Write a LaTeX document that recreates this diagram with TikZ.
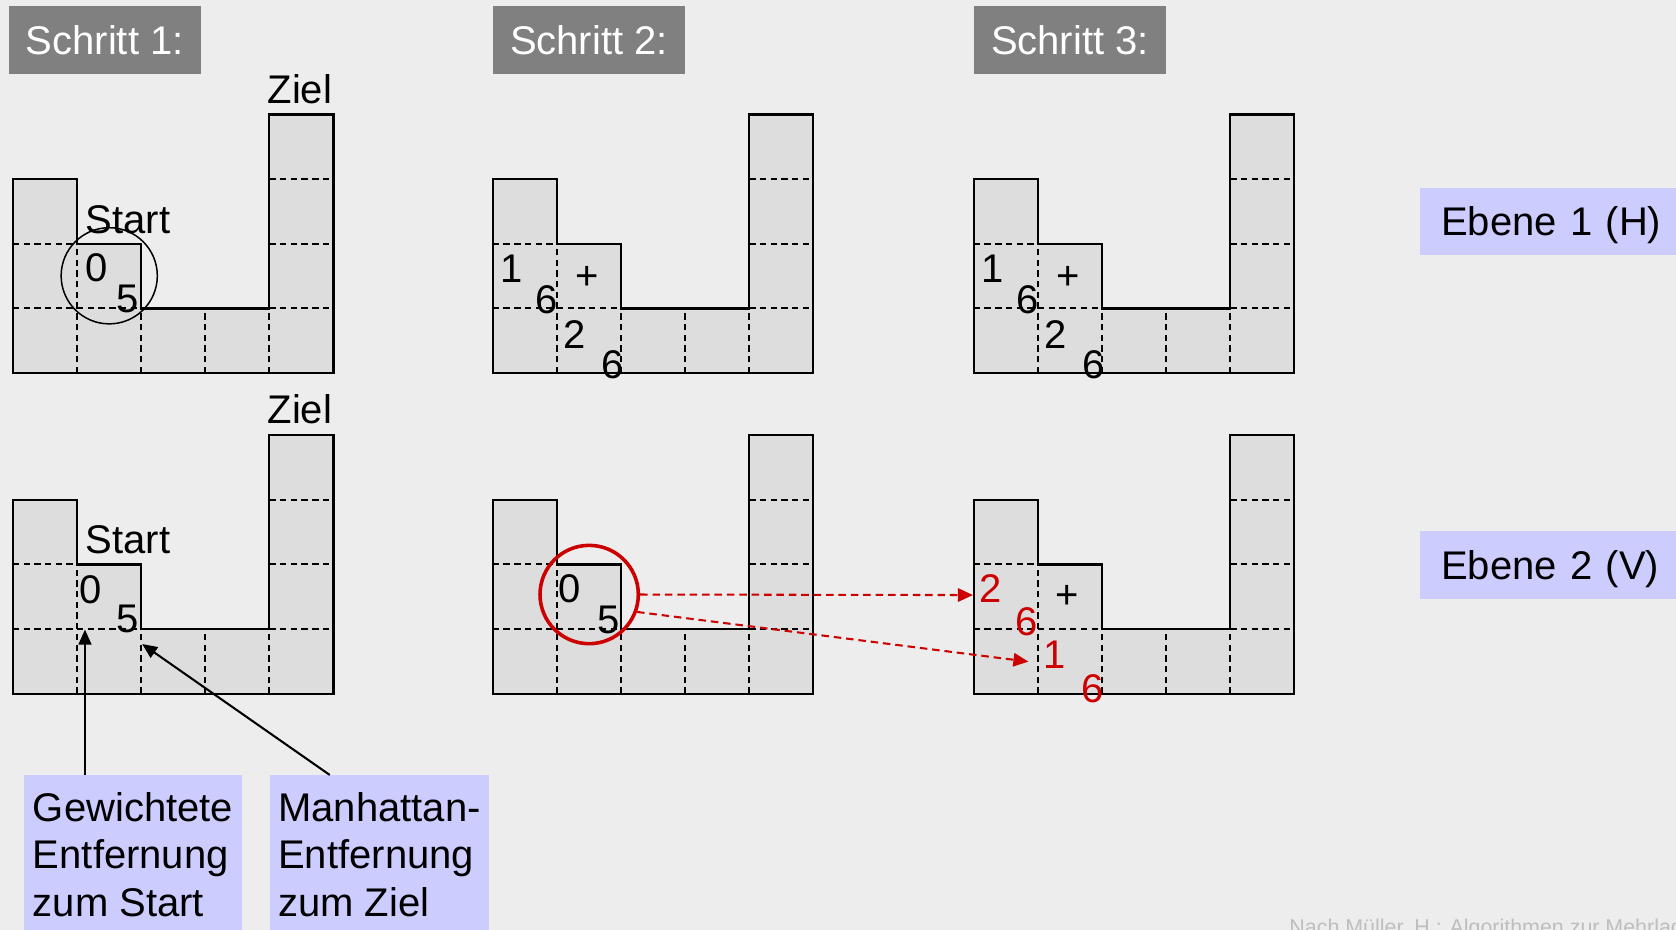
\documentclass[tikz,border=0pt]{standalone}
\usepackage{fontspec}
\setmainfont{Liberation Sans}
\usetikzlibrary{arrows.meta}
\definecolor{grund}{RGB}{237,237,237}
\definecolor{zelle}{RGB}{221,221,221}
\definecolor{kopfgrau}{RGB}{128,128,128}
\definecolor{lila}{RGB}{204,204,255}
\definecolor{rot}{RGB}{204,0,0}
\definecolor{quellgrau}{RGB}{190,190,190}
\newcommand{\gross}{\fontsize{21.3}{25.3}\selectfont}
\tikzset{
  kopf/.style={fill=kopfgrau,text=white,font=\gross,minimum width=3.6cm,
    minimum height=1.27cm,inner sep=0pt},
  ebene/.style={fill=lila,font=\gross,anchor=north west,inner xsep=0.4cm,
    text width=4.4cm,align=left,minimum height=1.26cm,text height=15.3pt,text depth=0pt},
  info/.style={fill=lila,font=\gross,anchor=north west,inner xsep=0.16cm,
    inner ysep=0.32cm,minimum width=4cm,align=left},
  zahl/.style={font=\gross,inner sep=0pt},
  rotzahl/.style={zahl,text=rot},
  wort/.style={font=\gross,inner sep=0pt,anchor=base west},
  raster/.style={dash pattern=on 3.4pt off 2.3pt,line width=1.1pt},
  zeiger/.style={-{Triangle[length=2.8mm,width=2.4mm]},line width=1.1pt},
  rotpfeil/.style={-{Triangle[length=2.8mm,width=2.5mm]},draw=rot,line width=1.1pt,
    dash pattern=on 4pt off 2.6pt},
  % Mulde aus Rasterzellen, Ursprung unten links
  pics/becken/.style={code={
    \begin{scope}[x=1.2cm,y=1.21cm]
      \fill[zelle] (0,0) -- (5,0) -- (5,4) -- (4,4) -- (4,1) -- (2,1) -- (2,2)
        -- (1,2) -- (1,3) -- (0,3) -- cycle;
      \draw[raster] (0,1) -- (2,1) (0,2) -- (1,2) (1,0) -- (1,2);
      \foreach \k in {2,3,4} \draw[raster] (\k,0) -- (\k,1);
      \foreach \k in {1,2,3} \draw[raster] (4,\k) -- (5,\k);
      \draw[line width=1.2pt] (0,0) -- (5,0) -- (5,4) -- (4,4) -- (4,1) -- (2,1)
        -- (2,2) -- (1,2) -- (1,3) -- (0,3) -- cycle;
    \end{scope}
  }},
}

\begin{document}
\begin{tikzpicture}[x=0.02cm,y=-0.02cm]
  \fill[grund] (0,0) rectangle (1568,870);
  \begin{scope}
    \clip (0,0) rectangle (1568,870);
    % Kopfzeile
    \node[kopf] (s1) at (98,37.4) {Schritt 1:};
    \node[kopf] (s2) at (551,37.4) {Schritt 2:};
    \node[kopf] (s3) at (1001,37.4) {Schritt 3:};
    % Raster
    \foreach \x in {12,461,911} \foreach \y in {349,649} \pic at (\x,\y) {becken};
    \node[ebene] (e1) at (1328,175.3) {Ebene 1 (H)};
    \node[ebene] (e2) at (1328,496.8) {Ebene 2 (V)};

    % Schritt 1, Ebene 1
    \node[wort] (ziel1) at (250,97) {Ziel};
    \node[wort] (start1) at (80,218) {Start};
    \node[zahl] (g1) at (90.5,250.3) {0};
    \node[zahl] (h1) at (119.5,280) {5};
    \node[draw,circle,minimum size=1.8cm,inner sep=0pt,line width=0.8pt] (k1) at (102.2,258) {};
    % Schritt 2, Ebene 1
    \node[zahl] (g2a) at (478.7,251) {1};
    \node[zahl] (h2a) at (511.4,280.7) {6};
    \node[zahl] (p2) at (549.5,260.4) {+};
    \node[zahl] (g2b) at (537.3,312.5) {2};
    \node[zahl] (h2b) at (573.2,341.5) {6};
    % Schritt 3, Ebene 1
    \node[zahl] (g3a) at (928.7,251) {1};
    \node[zahl] (h3a) at (961.4,280.7) {6};
    \node[zahl] (p3) at (999.5,260.4) {+};
    \node[zahl] (g3b) at (987.3,312.5) {2};
    \node[zahl] (h3b) at (1023.2,341.5) {6};

    % Schritt 1, Ebene 2
    \node[wort] (ziel4) at (250,396) {Ziel};
    \node[wort] (start4) at (80,517.6) {Start};
    \node[zahl] (g4) at (84.5,551.3) {0};
    \node[zahl] (h4) at (119.6,579.4) {5};
    \coordinate (g0) at (79.5,589);
    \coordinate (m0) at (133,602.5);
    % Schritt 2, Ebene 2
    \node[zahl] (g5) at (533.3,550.4) {0};
    \node[zahl] (h5) at (569.5,580) {5};
    \node[draw=rot,circle,minimum size=1.84cm,inner sep=0pt,line width=1.9pt] (k5) at (551.2,556.2) {};
    % Schritt 3, Ebene 2
    \node[rotzahl] (g6a) at (926.6,550.4) {2};
    \node[rotzahl] (h6a) at (960.9,581.6) {6};
    \node[zahl] (p6) at (998.2,558.8) {+};
    \node[rotzahl] (g6b) at (986.5,612.8) {1};
    \node[rotzahl] (h6b) at (1022,644) {6};
    \coordinate (z1) at (910.2,556.7);
    \coordinate (z2) at (962.1,619);
    \draw[rotpfeil] (k5.east) -- (z1);
    \draw[rotpfeil] (k5.-20) -- (z2);

    % Erklaerungen
    \node[info] (gew) at (22.5,725) {Gewichtete\\Entfernung\\zum Start};
    \node[info] (man) at (252,725) {Manhattan-\\Entfernung\\zum Ziel};
    \draw[zeiger] (gew.north -| g0) -- (g0);
    \draw[zeiger] ([xshift=1.13cm]man.north west) -- (m0);

    \node[anchor=base west,font=\fontsize{11.4}{13}\selectfont,text=quellgrau,inner sep=0pt]
      (quelle) at (1206,874) {Nach Müller, H.: Algorithmen zur Mehrlag};
  \end{scope}
\end{tikzpicture}
\end{document}
